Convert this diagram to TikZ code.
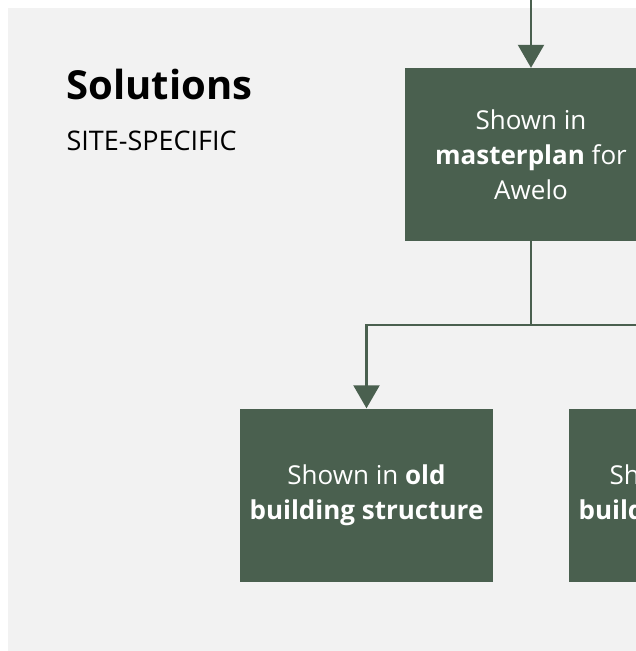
\documentclass[tikz,border=0pt]{standalone}
\usepackage{fontspec}
\setmainfont{Open Sans}
\usetikzlibrary{arrows.meta}
\definecolor{boxgreen}{HTML}{4A604F}
\definecolor{bggray}{HTML}{F2F2F2}
\begin{document}
\begin{tikzpicture}[x=1pt,y=-1pt,
  sol/.style={fill=boxgreen,rectangle,text=white,align=center,inner sep=0pt,
    minimum width=253pt,minimum height=173pt,font=\fontsize{26}{35}\selectfont},
  conn/.style={draw=boxgreen,line width=2.2pt},
  arr/.style={conn,-{Triangle[width=26pt,length=23pt]}}]
\def\w{636};
\def\h{651};
\useasboundingbox (0,0) rectangle (\w,\h);
\clip (0,0) rectangle (\w,\h);
\fill[bggray] (8,8) rectangle (\w,\h);

\node[anchor=base west,font=\fontsize{40}{48}\selectfont\bfseries] (T) at (63,99) {Solutions};
\node[anchor=base west,font=\fontsize{27}{32}\selectfont] (S) at (63,150) {SITE-SPECIFIC};

\node[sol] (A) at (531,154.5) {Shown in\\\textbf{masterplan} for\\Awelo};
\node[sol] (B) at (366.5,495) {Shown in \textbf{old}\\\textbf{building structure}};
\node[sol] (C) at (695.5,495) {Shown in \textbf{new}\\\textbf{building structure}};

\coordinate (in) at (531,0);
\draw[arr] (in) -- (A.north);
\draw[conn] (A.south) -- ++(0,84) coordinate (split);
\draw[arr] (split) -| (B.north);
\draw[arr] (split) -| (C.north);
\end{tikzpicture}
\end{document}
